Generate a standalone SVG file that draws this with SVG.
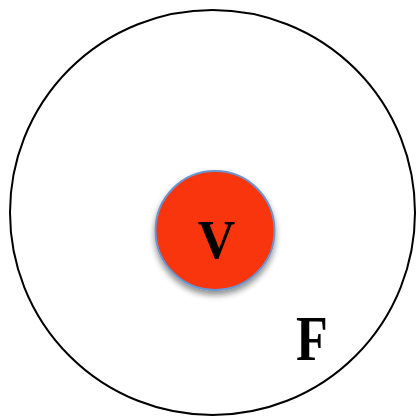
<svg xmlns="http://www.w3.org/2000/svg" width="416" height="417" viewBox="0 0 416 417">
<style>
.lbl{font-family:"Liberation Serif","Times New Roman",serif;font-weight:bold;fill:#000}
</style>
<defs>
<filter id="sh" x="-20%" y="-20%" width="140%" height="150%">
<feGaussianBlur in="SourceAlpha" stdDeviation="3"/>
<feOffset dx="0" dy="4" result="b"/>
<feComponentTransfer><feFuncA type="linear" slope="0.45"/></feComponentTransfer>
<feMerge><feMergeNode/><feMergeNode in="SourceGraphic"/></feMerge>
</filter>
</defs>
<rect width="416" height="417" fill="#fff"/>
<g id="F">
<circle cx="212.5" cy="212.5" r="202.5" fill="#fff" stroke="#000" stroke-width="2"/>
<text class="lbl" transform="translate(312,360) scale(1,1.22)" text-anchor="middle" font-size="52">F</text>
</g>
<g id="V">
<circle cx="215" cy="230.5" r="59.5" fill="#F8340E" stroke="#6a95cf" stroke-width="2" filter="url(#sh)"/>
<text class="lbl" transform="translate(216.5,258) scale(1,1.07)" text-anchor="middle" font-size="52">V</text>
</g>
<g id="connectors"/>
</svg>
